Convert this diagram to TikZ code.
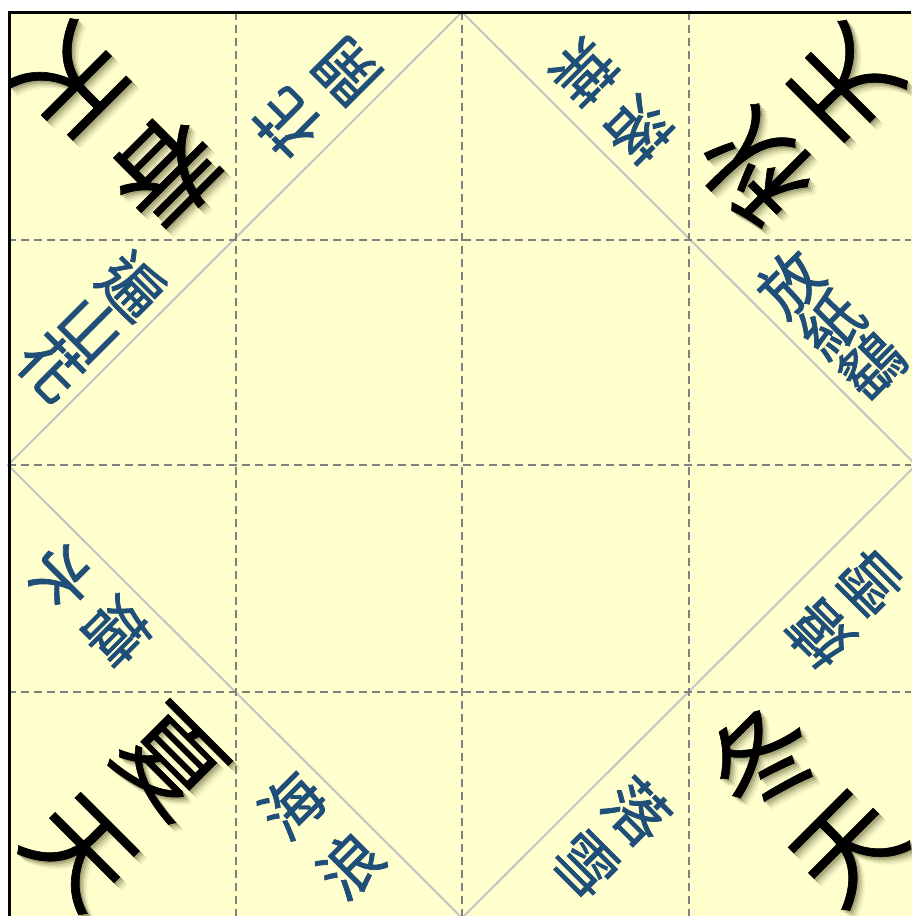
\documentclass[tikz,border=0pt]{standalone}
\usepackage{fontspec}
\newfontfamily\cjk[FakeBold=0.6]{Noto Sans CJK TC}
\newfontfamily\cjkblue[FakeBold=1.2]{Noto Sans CJK TC}
\definecolor{paper}{RGB}{255,255,206}
\definecolor{inkblue}{RGB}{31,78,121}
\definecolor{gridgray}{RGB}{128,128,128}
\definecolor{foldgray}{RGB}{196,196,196}
\definecolor{shadowc}{RGB}{80,80,40}
\tikzset{
  corner/.style={font=\cjk\fontsize{105}{105}\selectfont, inner sep=0pt},
  flap/.style={font=\cjkblue\fontsize{62}{62}\selectfont, text=inkblue, inner sep=0pt},
  gridline/.style={draw=gridgray, line width=2pt, dash pattern=on 8pt off 5pt},
  foldline/.style={draw=foldgray, line width=2pt},
}
\newcommand\cornerchar[5]{%
  \foreach \dd/\oo in {1.5/0.2,3/0.16,4.5/0.12,6/0.08,7.5/0.05}{%
    \node[corner, rotate=#4, text=shadowc, text opacity=\oo] at (#2+\dd,#3+\dd) {#5};}
  \node[corner, rotate=#4] (#1) at (#2,#3) {#5};}
\begin{document}
\begin{tikzpicture}[x=1pt,y=-1pt]
\useasboundingbox (0,0) rectangle (911,916);
\fill[white] (0,0) rectangle (911,916);
\fill[paper] (8,12) rectangle (920,920);
% fold diamond
\draw[foldline] (462,12) -- (916,465) -- (462,918) -- (8,465) -- cycle;
% dashed grid
\foreach \gx in {236,462,689}{\draw[gridline] (\gx,12) -- (\gx,916);}
\foreach \gy in {240,465,692}{\draw[gridline] (8,\gy) -- (911,\gy);}
% outer border
\draw[black, line width=3pt] (9,916) -- (9,12.5) -- (911,12.5);
% corner texts
\cornerchar{tl1}{167}{172}{-135}{春}
\cornerchar{tl2}{71}{80}{-135}{天}
\cornerchar{tr1}{756}{168}{135}{秋}
\cornerchar{tr2}{846}{82}{135}{天}
\cornerchar{bl1}{169}{762}{-45}{夏}
\cornerchar{bl2}{79}{853}{-45}{天}
\cornerchar{br1}{762}{758}{45}{冬}
\cornerchar{br2}{849}{849}{45}{天}
% flap texts
\node[flap, rotate=135] (f1a) at (287,123) {花};
\node[flap, rotate=135] (f1b) at (347,71) {開};
\node[flap, rotate=-135] (f2a) at (639,130) {落};
\node[flap, rotate=-135] (f2b) at (584,72) {葉};
\node[flap, rotate=-45] (f3a) at (132,286) {遍};
\node[flap, rotate=-45] (f3b) at (91,328) {山};
\node[flap, rotate=-45] (f3c) at (51,367) {花};
\node[flap, rotate=45] (f4a) at (790,283) {放};
\node[flap, rotate=45] (f4b) at (831,324) {紙};
\node[flap, rotate=45] (f4c) at (872,365) {鷂};
\node[flap, rotate=-135] (f5a) at (117,632) {嬉};
\node[flap, rotate=-135] (f5b) at (62,578) {水};
\node[flap, rotate=135] (f6a) at (820,634) {嬉};
\node[flap, rotate=135] (f6b) at (870,583) {雪};
\node[flap, rotate=45] (f7a) at (292,805) {海};
\node[flap, rotate=45] (f7b) at (350,865) {浪};
\node[flap, rotate=-45] (f8a) at (637,811) {落};
\node[flap, rotate=-45] (f8b) at (586,864) {雪};
\end{tikzpicture}
\end{document}
